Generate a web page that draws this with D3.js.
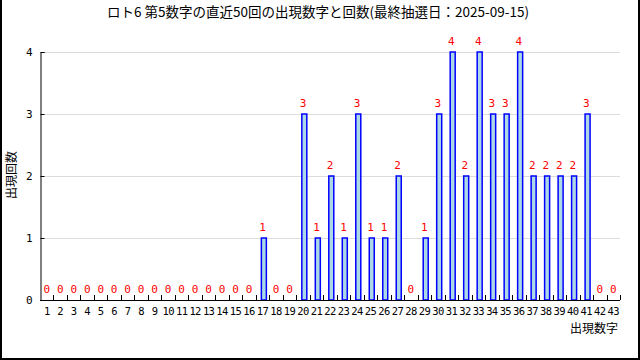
<!DOCTYPE html>
<html><head><meta charset="utf-8">
<script src="https://cdn.jsdelivr.net/npm/d3@7"></script>
<style>body{margin:0;background:#fff}svg{display:block}</style>
</head><body>
<svg id="c" width="640" height="360"></svg>
<script>
const title = "ロト6 第5数字の直近50回の出現数字と回数(最終抽選日：2025-09-15)";
const categories = d3.range(1, 44).map(String);
const counts = [0,0,0,0,0,0,0,0,0,0,0,0,0,0,0,0,1,0,0,3,1,2,1,3,1,1,2,0,1,3,4,2,4,3,3,4,2,2,2,2,3,0,0];
const yTicks = [0,1,2,3,4];
const xLabel = "出現数字";
const yLabel = "出現回数";

const svg = d3.select("#c");
const jp = "'Noto Sans CJK JP', sans-serif";
const mono = "'DejaVu Sans Mono', monospace";
const L = 40, R = 620, T = 52, B = 300;
const x = d3.scaleBand().domain(categories).range([L, R]).padding(0);
const y = d3.scaleLinear().domain([0, 4]).range([B, T]);

svg.append("rect").attr("width",640).attr("height",360).attr("fill","#fff");
// frame
svg.append("path").attr("d","M1,0V359H639V0").attr("fill","none").attr("stroke","#000").attr("stroke-width",2);

svg.append("text").attr("x",318).attr("y",17).attr("text-anchor","middle")
  .attr("font-family",jp).attr("font-size",13.5).text(title);

// grid
svg.append("g").selectAll("line").data(yTicks.filter(d=>d>0)).join("line")
  .attr("x1",L).attr("x2",R).attr("y1",d=>y(d)+0.5).attr("y2",d=>y(d)+0.5)
  .attr("stroke","#dcdcdc");

// y axis
const ya = svg.append("g").attr("transform",`translate(${L+0.5},0)`)
  .call(d3.axisLeft(y).tickValues(yTicks).tickSize(-4).tickPadding(8).tickFormat(d3.format("d")));
ya.select(".domain").attr("stroke","#000");
ya.selectAll("text").attr("font-family",mono).attr("font-size",11).attr("fill","#000");

// bars
svg.append("g").selectAll("rect").data(counts.map((v,i)=>({c:categories[i],v})).filter(d=>d.v>0)).join("rect")
  .attr("x",d=>x(d.c)+x.bandwidth()/2-1.2).attr("width",5)
  .attr("y",d=>y(d.v)).attr("height",d=>B-y(d.v))
  .attr("fill","#add8e6").attr("stroke","#0000ff").attr("stroke-width",1.5);

// x axis
const xa = svg.append("g").attr("transform",`translate(0,${B+0.5})`)
  .call(d3.axisBottom(x).tickSize(0).tickPadding(7));
xa.select(".domain").attr("stroke","#000").attr("d",`M${L},0H${R}`);
xa.selectAll("text").attr("font-family",mono).attr("font-size",10.5).attr("fill","#000").attr("letter-spacing","-0.6");
// inner ticks at band boundaries
svg.append("g").selectAll("line").data(categories.slice(1).concat(["end"])).join("line")
  .attr("x1",(d,i)=>Math.round(L + x.step()*(i+1))+0.5).attr("x2",(d,i)=>Math.round(L + x.step()*(i+1))+0.5)
  .attr("y1",B).attr("y2",B-5).attr("stroke","#000");

// value labels
svg.append("g").selectAll("text").data(counts.map((v,i)=>({c:categories[i],v}))).join("text")
  .attr("x",d=>x(d.c)+x.bandwidth()/2).attr("y",d=>y(d.v)-7)
  .attr("text-anchor","middle").attr("font-family",mono).attr("font-size",11).attr("fill","#ff0000")
  .text(d=>d.v);

svg.append("text").attr("x",618).attr("y",333).attr("text-anchor","end")
  .attr("font-family",jp).attr("font-size",12).text(xLabel);
svg.append("text").attr("transform","translate(16,175) rotate(-90)").attr("text-anchor","middle")
  .attr("font-family",jp).attr("font-size",12).text(yLabel);
</script>
</body></html>
